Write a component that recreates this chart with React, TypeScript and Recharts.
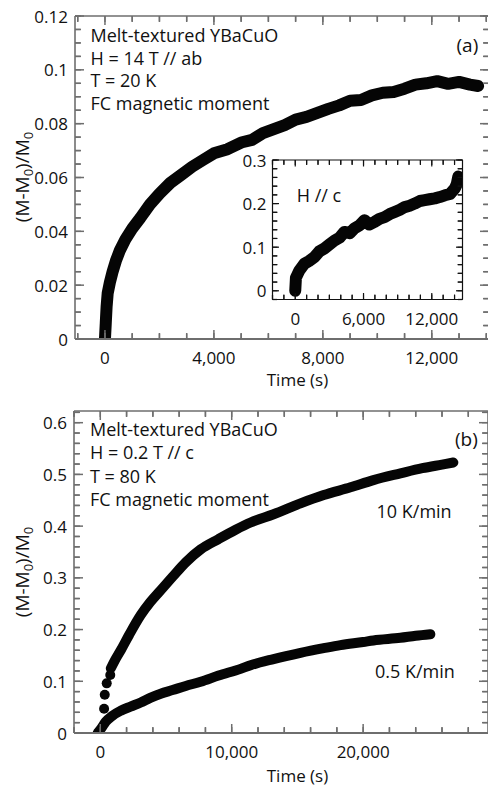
import React from 'react';
import { ComposedChart, Line, Scatter, XAxis, YAxis } from 'recharts';

// ---------- Panel (a): H // ab ----------
const timeA = [0, 30, 60, 100, 180, 280, 400, 550, 750, 1000, 1300, 1650, 2000, 2400, 2800, 3200, 3600, 4000, 4500, 5000, 5400, 5800, 6200, 6600, 7000, 7400, 7800, 8200, 8600, 9000, 9400, 9800, 10200, 10600, 11000, 11400, 11800, 12200, 12600, 13000, 13400, 13700];
const momentA = [0, 0.006, 0.012, 0.017, 0.021, 0.025, 0.029, 0.033, 0.037, 0.041, 0.045, 0.05, 0.054, 0.058, 0.061, 0.064, 0.0665, 0.069, 0.0705, 0.073, 0.074, 0.0765, 0.078, 0.0795, 0.0815, 0.0825, 0.084, 0.0855, 0.0868, 0.0885, 0.0888, 0.0905, 0.0915, 0.0918, 0.093, 0.0945, 0.095, 0.0958, 0.0948, 0.0955, 0.0945, 0.094];

// ---------- Inset: H // c ----------
const timeInset = [0, 60, 350, 800, 1200, 1680, 2100, 2560, 3000, 3440, 3900, 4320, 4800, 5200, 5650, 6090, 6500, 6970, 7400, 7850, 8300, 8740, 9200, 9620, 10050, 10500, 10950, 11380, 11800, 12270, 12700, 13150, 13600, 14030, 14200, 14330];
const momentInset = [0, 0.03, 0.046, 0.062, 0.068, 0.077, 0.09, 0.097, 0.106, 0.115, 0.122, 0.135, 0.132, 0.143, 0.15, 0.162, 0.152, 0.158, 0.165, 0.169, 0.176, 0.181, 0.186, 0.192, 0.195, 0.2, 0.206, 0.208, 0.21, 0.212, 0.215, 0.219, 0.222, 0.235, 0.245, 0.262];

// ---------- Panel (b): H // c, two sweep rates ----------
const timeEarly10 = [290, 340, 490, 760];
const momentEarly10 = [0.047, 0.074, 0.096, 0.112];
const time10 = [800, 1100, 1558, 2200, 3078, 3800, 4597, 5500, 6500, 7637, 9000, 10300, 11436, 13184, 15235, 17000, 19035, 20783, 22834, 24500, 26000, 26862];
const moment10 = [0.125, 0.14, 0.16, 0.19, 0.228, 0.253, 0.276, 0.302, 0.33, 0.355, 0.375, 0.393, 0.407, 0.423, 0.444, 0.46, 0.475, 0.489, 0.502, 0.512, 0.519, 0.523];
const time05 = [-200, 100, 418, 900, 1558, 2300, 3078, 3800, 4597, 5500, 6500, 7637, 9000, 10676, 11436, 13184, 15235, 17000, 18275, 20000, 20783, 22834, 24000, 25114];
const moment05 = [0, 0.01, 0.022, 0.033, 0.043, 0.051, 0.059, 0.068, 0.076, 0.083, 0.091, 0.099, 0.111, 0.124, 0.131, 0.143, 0.155, 0.164, 0.17, 0.176, 0.179, 0.184, 0.188, 0.191];

// ---------- Ticks ----------
const aXMajor = [0, 4000, 8000, 12000];
const aYMajor = [0, 0.02, 0.04, 0.06, 0.08, 0.1, 0.12];
const inXMajor = [0, 6000, 12000];
const inYMajor = [0, 0.1, 0.2, 0.3];
const bXMajor = [0, 10000, 20000];
const bYMajor = [0, 0.1, 0.2, 0.3, 0.4, 0.5, 0.6];

const range = (a: number, b: number, step: number) => {
  const out: number[] = [];
  const n = Math.round((b - a) / step);
  for (let i = 0; i <= n; i++) out.push(Math.round((a + i * step) * 1e6) / 1e6);
  return out;
};
const aXTicks = range(-1000, 14000, 1000);
const aYTicks = range(0, 0.12, 0.005);
const inXTicks = range(-2000, 14000, 1000);
const inYTicks = range(-0.02, 0.3, 0.02);
const bXTicks = range(-2000, 28000, 2000);
const bYTicks = range(0, 0.62, 0.02);

const zip = (ts: number[], ys: number[]) => ts.map((t, i) => ({ t, y: ys[i] }));
const seriesA = zip(timeA, momentA);
const seriesInset = zip(timeInset, momentInset);
const series10Early = zip(timeEarly10, momentEarly10);
const series10 = zip(time10, moment10);
const series05 = zip(time05, moment05);

const FONT = '"Open Sans", "DejaVu Sans", sans-serif';
const AXIS = '#6e6e6e';
const INK = '#111111';
const MARK = '#050505';

type Side = 'left' | 'right' | 'top' | 'bottom';
interface TickStyle { major: number; minor: number; color: string; width: number; fontSize: number; gap: number; label: boolean; }

const fmt = (v: number, side: Side) => (side === 'bottom' ? v.toLocaleString('en-US') : String(v));

const makeTick = (side: Side, majors: number[], s: TickStyle) => (props: any) => {
  const x = Number(props.x);
  const y = Number(props.y);
  const v = Number(props.payload.value);
  const isMajor = majors.some((m) => Math.abs(m - v) < 1e-9);
  const len = isMajor ? s.major : s.minor;
  const x2 = side === 'left' ? x + len : side === 'right' ? x - len : x;
  const y2 = side === 'top' ? y + len : side === 'bottom' ? y - len : y;
  const showLabel = s.label && isMajor;
  return (
    <g>
      <line x1={x} y1={y} x2={x2} y2={y2} stroke={s.color} strokeWidth={s.width} />
      {showLabel && side === 'left' ? (
        <text x={x - s.gap} y={y} textAnchor="end" dominantBaseline="central" fontFamily={FONT} fontSize={s.fontSize} fill={INK}>
          {fmt(v, side)}
        </text>
      ) : null}
      {showLabel && side === 'bottom' ? (
        <text x={x} y={y + s.gap} textAnchor="middle" dominantBaseline="central" fontFamily={FONT} fontSize={s.fontSize} fill={INK}>
          {fmt(v, side)}
        </text>
      ) : null}
    </g>
  );
};

const mainStyle: TickStyle = { major: 9, minor: 5.5, color: AXIS, width: 1.5, fontSize: 17, gap: 7, label: true };
const mainXStyle: TickStyle = { ...mainStyle, gap: 18 };
const mainNoLabel: TickStyle = { ...mainStyle, label: false };
const insetStyle: TickStyle = { major: 6.5, minor: 4.5, color: INK, width: 1.2, fontSize: 17, gap: 6, label: true };
const insetXStyle: TickStyle = { ...insetStyle, gap: 19 };
const insetNoLabel: TickStyle = { ...insetStyle, label: false };

// inward native tick lines (negative size); positive margin of equal size keeps the label anchor on the axis line
const mainAxis = { type: 'number' as const, allowDataOverflow: true, interval: 0 as const, tickLine: { stroke: AXIS, strokeWidth: 1.4 }, tickSize: -6, tickMargin: 6 };
const insetAxis = { type: 'number' as const, allowDataOverflow: true, interval: 0 as const, tickLine: { stroke: INK, strokeWidth: 1.1 }, tickSize: -5, tickMargin: 5 };
const hidden = { stroke: 'none', strokeWidth: 0, dot: false, activeDot: false, isAnimationActive: false, legendType: 'none' as const };

const YLabel = ({ x, y }: { x: number; y: number }) => (
  <text x={x} y={y} transform={`rotate(-90, ${x}, ${y})`} textAnchor="middle" fontFamily={FONT} fontSize={19} fill={INK}>
    (M-M<tspan dy={4} fontSize={13}>0</tspan>
    <tspan dy={-4}>)/M</tspan>
    <tspan dy={4} fontSize={13}>0</tspan>
  </text>
);

const Txt = ({ x, y, children, size = 18, anchor = 'start' }: any) => (
  <text x={x} y={y} fontFamily={FONT} fontSize={size} fill={INK} textAnchor={anchor}>
    {children}
  </text>
);

export default function App() {
  const aXDomain: [number, number] = [-1100, 14100];
  const bXDomain: [number, number] = [-2000, 29500];
  return (
    <div style={{ position: 'absolute', left: 0, top: 0, width: 488, height: 789, overflow: 'hidden', background: '#fff' }}>
      {/* Panel (a) */}
      <div style={{ position: 'absolute', left: 0, top: 0 }}>
        <ComposedChart width={495} height={400} margin={{ top: 15, right: 5, bottom: 0, left: 0 }}>
          <XAxis xAxisId="b" dataKey="t" {...mainAxis} domain={aXDomain} ticks={aXTicks} height={61} axisLine={{ stroke: AXIS, strokeWidth: 2 }} tick={makeTick('bottom', aXMajor, mainXStyle)} />
          <XAxis xAxisId="t" orientation="top" dataKey="t" {...mainAxis} domain={aXDomain} ticks={aXTicks} height={1} axisLine={{ stroke: AXIS, strokeWidth: 1.5 }} tick={makeTick('top', aXMajor, mainNoLabel)} />
          <YAxis yAxisId="l" dataKey="y" {...mainAxis} domain={[0, 0.12]} ticks={aYTicks} width={75} axisLine={{ stroke: AXIS, strokeWidth: 1.6 }} tick={makeTick('left', aYMajor, mainStyle)} />
          <YAxis yAxisId="r" orientation="right" dataKey="y" {...mainAxis} domain={[0, 0.12]} ticks={aYTicks} width={1} axisLine={{ stroke: AXIS, strokeWidth: 1.6 }} tick={makeTick('right', aYMajor, mainNoLabel)} />
          <Line xAxisId="t" yAxisId="r" data={seriesA} dataKey="y" {...hidden} />
          <Line xAxisId="b" yAxisId="l" data={seriesA} dataKey="y" type="linear" stroke={MARK} strokeWidth={12} strokeLinecap="round" strokeLinejoin="round" dot={false} activeDot={false} isAnimationActive={false} />
        </ComposedChart>
      </div>

      {/* Inset of panel (a) */}
      <div style={{ position: 'absolute', left: 225, top: 150 }}>
        <ComposedChart width={245} height={190} margin={{ top: 9, right: 6.5, bottom: 0, left: 0 }}>
          <XAxis xAxisId="b" dataKey="t" {...insetAxis} domain={[-2000, 14700]} ticks={inXTicks} height={40.5} axisLine={{ stroke: INK, strokeWidth: 1.2 }} tick={makeTick('bottom', inXMajor, insetXStyle)} />
          <XAxis xAxisId="t" orientation="top" dataKey="t" {...insetAxis} domain={[-2000, 14700]} ticks={inXTicks} height={1} axisLine={{ stroke: INK, strokeWidth: 1.2 }} tick={makeTick('top', inXMajor, insetNoLabel)} />
          <YAxis yAxisId="l" dataKey="y" {...insetAxis} domain={[-0.02, 0.3]} ticks={inYTicks} width={47.5} axisLine={{ stroke: INK, strokeWidth: 1.2 }} tick={makeTick('left', inYMajor, insetStyle)} />
          <YAxis yAxisId="r" orientation="right" dataKey="y" {...insetAxis} domain={[-0.02, 0.3]} ticks={inYTicks} width={1} axisLine={{ stroke: INK, strokeWidth: 1.2 }} tick={makeTick('right', inYMajor, insetNoLabel)} />
          <Line xAxisId="t" yAxisId="r" data={seriesInset} dataKey="y" {...hidden} />
          <Line xAxisId="b" yAxisId="l" data={seriesInset} dataKey="y" type="linear" stroke={MARK} strokeWidth={12} strokeLinecap="round" strokeLinejoin="round" dot={false} activeDot={false} isAnimationActive={false} />
        </ComposedChart>
      </div>

      {/* Panel (b) */}
      <div style={{ position: 'absolute', left: 0, top: 395 }}>
        <ComposedChart width={495} height={394} margin={{ top: 15, right: 6, bottom: 0, left: 0 }}>
          <XAxis xAxisId="b" dataKey="t" {...mainAxis} domain={bXDomain} ticks={bXTicks} height={56} axisLine={{ stroke: AXIS, strokeWidth: 2 }} tick={makeTick('bottom', bXMajor, mainXStyle)} />
          <XAxis xAxisId="t" orientation="top" dataKey="t" {...mainAxis} domain={bXDomain} ticks={bXTicks} height={1} axisLine={{ stroke: AXIS, strokeWidth: 1.5 }} tick={makeTick('top', bXMajor, mainNoLabel)} />
          <YAxis yAxisId="l" dataKey="y" {...mainAxis} domain={[0, 0.6226]} ticks={bYTicks} width={74} axisLine={{ stroke: AXIS, strokeWidth: 1.6 }} tick={makeTick('left', bYMajor, mainStyle)} />
          <YAxis yAxisId="r" orientation="right" dataKey="y" {...mainAxis} domain={[0, 0.6226]} ticks={bYTicks} width={1} axisLine={{ stroke: AXIS, strokeWidth: 1.6 }} tick={makeTick('right', bYMajor, mainNoLabel)} />
          <Line xAxisId="t" yAxisId="r" data={series10} dataKey="y" {...hidden} />
          <Line xAxisId="b" yAxisId="l" data={series05} dataKey="y" type="monotone" stroke={MARK} strokeWidth={10} strokeLinecap="round" strokeLinejoin="round" dot={false} activeDot={false} isAnimationActive={false} />
          <Line xAxisId="b" yAxisId="l" data={series10} dataKey="y" type="monotone" stroke={MARK} strokeWidth={10} strokeLinecap="round" strokeLinejoin="round" dot={false} activeDot={false} isAnimationActive={false} />
          <Scatter xAxisId="b" yAxisId="l" data={series10Early} dataKey="y" isAnimationActive={false} shape={(p: any) => <circle cx={p.cx} cy={p.cy} r={5} fill={MARK} />} />
        </ComposedChart>
      </div>

      {/* Texts */}
      <svg width={488} height={789} style={{ position: 'absolute', left: 0, top: 0, pointerEvents: 'none' }}>
        <YLabel x={29} y={177} />
        <YLabel x={29} y={572} />
        <Txt x={297.5} y={386} anchor="middle" size={17}>Time (s)</Txt>
        <Txt x={297.5} y={782} anchor="middle" size={17}>Time (s)</Txt>

        <Txt x={90.5} y={41.7}>Melt-textured YBaCuO</Txt>
        <Txt x={90.5} y={64.5}>H = 14 T // ab</Txt>
        <Txt x={90.5} y={87.3}>T = 20 K</Txt>
        <Txt x={90.5} y={110}>FC magnetic moment</Txt>
        <Txt x={456.5} y={52} size={19}>(a)</Txt>
        <Txt x={296.7} y={202}>H // c</Txt>

        <Txt x={90} y={436}>Melt-textured YBaCuO</Txt>
        <Txt x={90} y={459.3}>H = 0.2 T // c</Txt>
        <Txt x={90} y={482.7}>T = 80 K</Txt>
        <Txt x={90} y={506}>FC magnetic moment</Txt>
        <Txt x={455} y={446} size={19}>(b)</Txt>
        <Txt x={376.5} y={517.5}>10 K/min</Txt>
        <Txt x={375} y={677.5}>0.5 K/min</Txt>
      </svg>
    </div>
  );
}
